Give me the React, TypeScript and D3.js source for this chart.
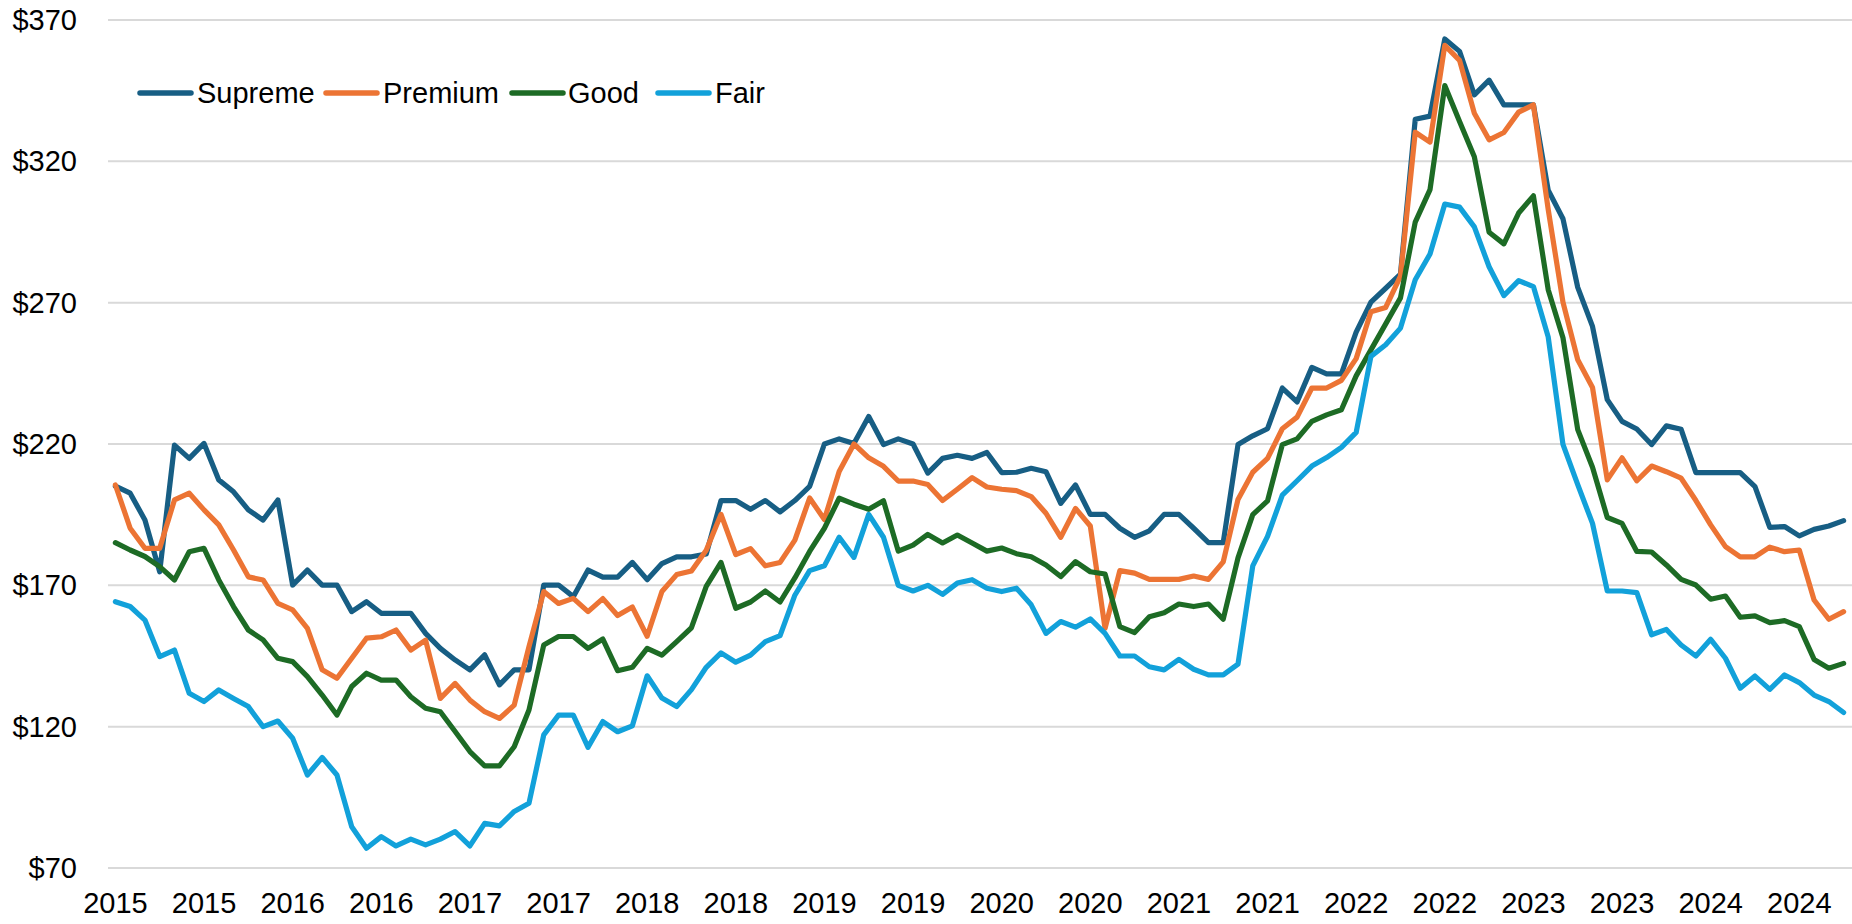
import React from "react";
import * as d3 from "d3";

const W = 1852;
const H = 924;

// monthly categories Jan 2015 .. Oct 2024
const months: string[] = [];
for (let y = 2015; y <= 2024; y++) {
  for (let m = 1; m <= 12; m++) {
    if (y === 2024 && m > 10) break;
    months.push(`${y}-${String(m).padStart(2, "0")}`);
  }
}

const tickIndices = [0, 6, 12, 18, 24, 30, 36, 42, 48, 54, 60, 66, 72, 78, 84, 90, 96, 102, 108, 114];
const tickLabels = ["2015", "2015", "2016", "2016", "2017", "2017", "2018", "2018", "2019", "2019", "2020", "2020", "2021", "2021", "2022", "2022", "2023", "2023", "2024", "2024"];
const yTicks = [70, 120, 170, 220, 270, 320, 370];

const supreme = [
  205.1, 202.6, 193.1, 174.8, 219.6, 214.9, 220.2, 207.3, 203.1, 196.7, 193.1, 200.2,
  170.1, 175.4, 170.1, 170.1, 160.7, 164.2, 160.1, 160.1, 160.1, 153.0, 147.7, 143.6,
  140.1, 145.4, 134.8, 140.1, 140.1, 170.1, 170.1, 166.0, 175.4, 172.9, 172.9, 178.1,
  172.0, 177.7, 180.1, 180.1, 181.1, 200.0, 200.0, 196.9, 200.0, 196.0, 200.0, 205.0,
  220.0, 221.8, 220.2, 229.7, 219.8, 221.8, 220.0, 209.7, 214.9, 216.0, 214.9, 217.0,
  209.9, 210.0, 211.4, 210.2, 199.0, 205.5, 195.1, 195.1, 190.2, 187.0, 189.3, 195.1,
  195.1, 190.2, 185.1, 185.1, 219.8, 222.9, 225.4, 239.8, 234.9, 247.1, 244.8, 244.8,
  259.6, 270.2, 275.1, 280.1, 334.9, 336.0, 363.3, 358.9, 343.5, 348.7, 340.0, 340.0,
  340.0, 309.8, 299.7, 275.4, 261.6, 235.7, 228.0, 225.3, 219.8, 226.4, 225.2, 209.9,
  209.9, 209.9, 209.9, 204.9, 190.5, 190.8, 187.5, 189.8, 191.0, 192.9,
];

const premium = [
  205.5, 190.2, 183.1, 183.1, 200.2, 202.6, 196.7, 191.4, 182.5, 173.0, 171.9, 163.6,
  161.3, 154.8, 140.1, 137.1, 144.2, 151.3, 151.8, 154.2, 147.1, 150.6, 130.0, 135.3,
  129.4, 125.3, 122.9, 127.6, 148.3, 167.8, 163.6, 165.4, 160.7, 165.3, 159.3, 162.3,
  152.0, 167.8, 173.8, 175.1, 182.4, 195.1, 180.9, 183.0, 176.9, 178.1, 186.0, 200.9,
  193.3, 210.3, 220.0, 215.1, 212.1, 206.9, 206.9, 205.7, 200.0, 204.0, 208.1, 204.8,
  204.0, 203.5, 201.4, 195.5, 187.0, 197.2, 191.0, 154.8, 175.2, 174.3, 172.1, 172.1,
  172.1, 173.3, 172.1, 178.3, 200.4, 210.0, 214.9, 225.4, 229.5, 239.8, 239.8, 242.5,
  250.2, 266.8, 268.3, 279.4, 330.3, 326.8, 361.0, 355.7, 337.0, 327.6, 330.2, 337.4,
  340.0, 303.0, 270.2, 249.8, 240.0, 207.3, 215.1, 207.0, 212.2, 210.2, 207.9, 200.0,
  191.4, 183.7, 180.1, 180.1, 183.5, 181.9, 182.5, 164.8, 158.0, 160.7,
];

const good = [
  185.1, 182.5, 180.2, 176.6, 171.9, 181.9, 183.1, 171.9, 162.5, 154.2, 150.7, 144.2,
  143.0, 137.7, 131.2, 124.1, 134.2, 138.9, 136.5, 136.5, 130.6, 126.5, 125.3, 118.3,
  111.2, 106.1, 106.1, 112.9, 125.9, 148.9, 151.9, 151.9, 147.7, 151.0, 139.8, 141.0,
  147.7, 145.3, 150.1, 155.0, 169.6, 178.1, 161.9, 164.1, 168.0, 164.1, 172.6, 182.0,
  190.2, 200.8, 198.7, 196.9, 199.9, 182.1, 184.2, 188.0, 185.0, 187.8, 185.0, 182.1,
  183.2, 181.2, 180.1, 177.2, 173.1, 178.4, 174.8, 174.0, 155.4, 153.3, 158.9, 160.3,
  163.4, 162.5, 163.4, 158.0, 179.7, 195.0, 199.9, 219.8, 221.8, 228.0, 230.3, 232.1,
  244.1, 253.3, 262.5, 271.7, 298.5, 310.0, 346.8, 334.1, 321.6, 294.9, 290.8, 301.7,
  307.8, 274.6, 257.6, 225.1, 211.8, 194.0, 191.9, 182.0, 181.8, 177.2, 172.1, 170.1,
  165.1, 166.2, 158.7, 159.2, 156.8, 157.5, 155.4, 143.8, 140.7, 142.4,
];

const fair = [
  164.2, 162.5, 157.7, 144.8, 147.1, 131.8, 128.9, 133.0, 130.0, 127.1, 120.0, 122.0,
  115.9, 102.9, 109.1, 102.9, 84.6, 77.0, 81.1, 77.8, 80.2, 78.2, 80.2, 82.9,
  77.8, 85.8, 84.9, 90.0, 92.9, 117.1, 124.1, 124.1, 112.7, 121.8, 118.2, 120.3,
  138.0, 130.1, 127.1, 133.1, 141.0, 146.1, 142.8, 145.3, 150.1, 152.2, 166.5, 175.2,
  176.9, 187.0, 179.9, 195.1, 187.0, 170.0, 168.0, 170.0, 166.8, 170.8, 172.0, 169.0,
  167.8, 169.0, 163.1, 153.0, 157.2, 155.2, 158.1, 153.0, 145.0, 145.0, 141.2, 140.1,
  143.8, 140.3, 138.3, 138.3, 142.1, 176.9, 187.3, 201.9, 207.0, 212.2, 215.2, 218.8,
  224.1, 251.0, 255.1, 261.0, 278.1, 287.2, 304.9, 303.8, 296.8, 282.7, 272.5, 277.8,
  275.7, 257.9, 219.9, 205.6, 191.9, 168.0, 168.0, 167.4, 152.5, 154.4, 148.9, 145.0,
  150.9, 144.2, 133.6, 137.9, 133.2, 138.3, 135.6, 131.2, 128.9, 125.0,
];

const seriesNames = ["Supreme", "Premium", "Good", "Fair"];
const seriesColors = ["#175e84", "#ec7434", "#1d6b25", "#12a1da"];
const seriesData = [supreme, premium, good, fair];

const FONT = "'Liberation Sans', Arial, sans-serif";

export default function App() {
  const left = 108;
  const right = 1851;
  const top = 20;
  const bottom = 868;

  const x = d3.scalePoint<number>().domain(d3.range(months.length)).range([left, right]).padding(0.5);
  const y = d3.scaleLinear().domain([70, 370]).range([bottom, top]);

  const line = d3
    .line<number>()
    .x((_, i) => x(i) as number)
    .y((d) => y(d));

  const legendItems = [
    { sx: 140, tx: 197 },
    { sx: 326, tx: 383 },
    { sx: 512, tx: 568 },
    { sx: 658, tx: 715 },
  ];

  return (
    <svg
      width={W}
      height={H}
      style={{ position: "absolute", left: 0, top: 0, background: "#fff" }}
      fontFamily={FONT}
    >
      {yTicks.map((t) => (
        <g key={t}>
          <line x1={left} x2={W} y1={y(t)} y2={y(t)} stroke="#d9d9d9" strokeWidth={2} />
          <text x={77} y={y(t)} dy="0.35em" textAnchor="end" fontSize={29} fill="#000">
            {`$${t}`}
          </text>
        </g>
      ))}
      {tickIndices.map((idx, i) => (
        <text key={idx} x={x(idx) as number} y={913} textAnchor="middle" fontSize={29} fill="#000">
          {tickLabels[i]}
        </text>
      ))}
      {seriesData.map((s, i) => (
        <path
          key={seriesNames[i]}
          d={line(s) || ""}
          fill="none"
          stroke={seriesColors[i]}
          strokeWidth={5.2}
          strokeLinejoin="round"
          strokeLinecap="round"
        />
      ))}
      {seriesNames.map((n, i) => (
        <g key={n}>
          <line
            x1={legendItems[i].sx}
            x2={legendItems[i].sx + 51}
            y1={93}
            y2={93}
            stroke={seriesColors[i]}
            strokeWidth={5.5}
            strokeLinecap="round"
          />
          <text x={legendItems[i].tx} y={93} dy="0.35em" fontSize={29} fill="#000">
            {n}
          </text>
        </g>
      ))}
    </svg>
  );
}
